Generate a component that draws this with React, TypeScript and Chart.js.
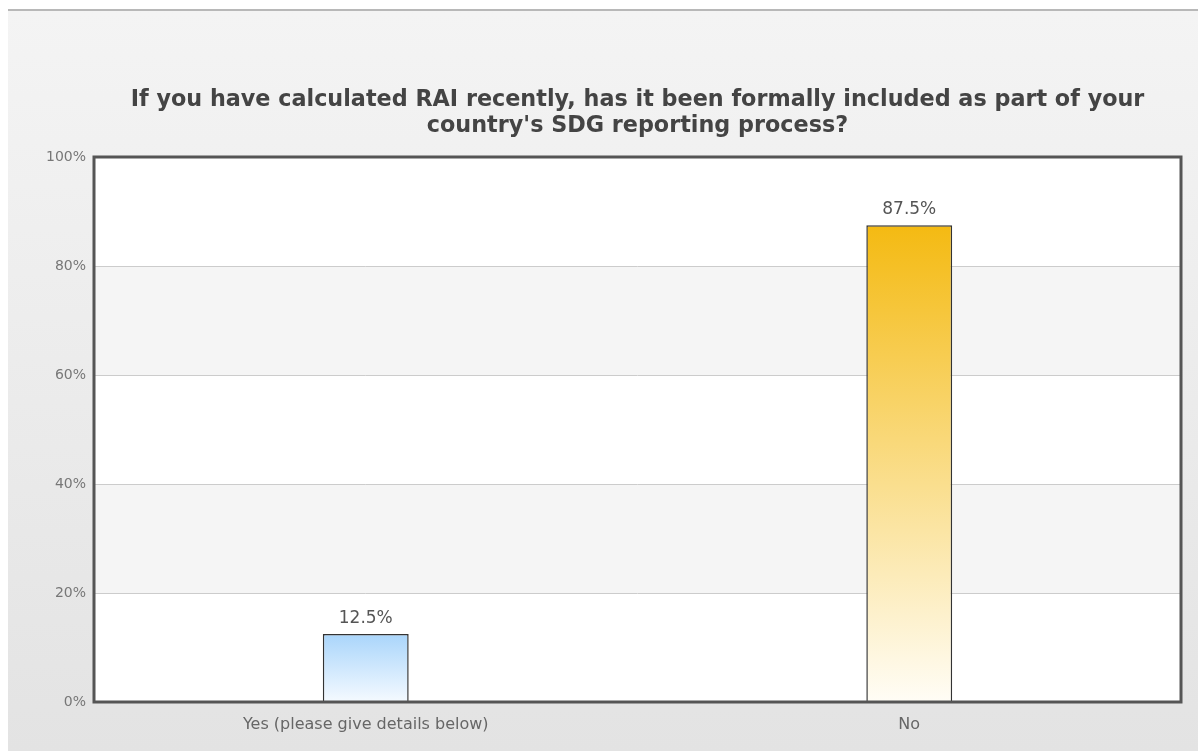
import React, { useEffect, useRef } from "react";
import { Chart, registerables } from "chart.js";

Chart.register(...registerables);

const titleLines = [
  "If you have calculated RAI recently, has it been formally included as part of your",
  "country's SDG reporting process?",
];
const categories = ["Yes (please give details below)", "No"];
const values = [12.5, 87.5];
const yTicks = [0, 20, 40, 60, 80, 100];
const gradTop = ["#a9d5fb", "#f4ba12"];
const gradBottom = ["#f5faff", "#fffdf6"];

const bgPlugin = {
  id: "bgPlugin",
  beforeDraw(chart: any) {
    const { ctx, width, height, chartArea } = chart;
    ctx.save();
    ctx.fillStyle = "#ffffff";
    ctx.fillRect(0, 0, width, height);
    const g = ctx.createLinearGradient(0, 11, 0, height);
    g.addColorStop(0, "#f4f4f4");
    g.addColorStop(1, "#e3e3e3");
    ctx.fillStyle = g;
    ctx.fillRect(8, 11, width - 8, height - 11);
    ctx.strokeStyle = "#b8b8b8";
    ctx.lineWidth = 2;
    ctx.beginPath();
    ctx.moveTo(8, 10);
    ctx.lineTo(width, 10);
    ctx.stroke();
    // plot bands
    const y = chart.scales.y;
    for (let i = 0; i < yTicks.length - 1; i++) {
      const a = y.getPixelForValue(yTicks[i]);
      const b = y.getPixelForValue(yTicks[i + 1]);
      ctx.fillStyle = i % 2 === 1 ? "#f5f5f5" : "#ffffff";
      ctx.fillRect(chartArea.left, b, chartArea.right - chartArea.left, a - b);
    }
    // title, centred over the plot area
    ctx.fillStyle = "#444444";
    ctx.font = "bold 22.3px 'DejaVu Sans'";
    ctx.textAlign = "center";
    ctx.textBaseline = "middle";
    const cx = (chartArea.left + chartArea.right) / 2;
    titleLines.forEach((t, i) => ctx.fillText(t, cx, 100 + i * 26));
    ctx.restore();
  },
  afterDatasetsDraw(chart: any) {
    const { ctx, chartArea } = chart;
    ctx.save();
    ctx.strokeStyle = "#555555";
    ctx.lineWidth = 3;
    ctx.strokeRect(chartArea.left, chartArea.top, chartArea.right - chartArea.left, chartArea.bottom - chartArea.top);
    const meta = chart.getDatasetMeta(0);
    ctx.fillStyle = "#555555";
    ctx.font = "17px 'DejaVu Sans'";
    ctx.textAlign = "center";
    ctx.textBaseline = "bottom";
    meta.data.forEach((bar: any, i: number) => {
      ctx.fillText(values[i] + "%", bar.x, bar.y - 7);
    });
    ctx.restore();
  },
};

export default function App() {
  const ref = useRef<HTMLCanvasElement>(null);
  useEffect(() => {
    if (!ref.current) return;
    const chart = new Chart(ref.current, {
      type: "bar",
      data: {
        labels: categories,
        datasets: [
          {
            data: values,
            backgroundColor: (c: any) => {
              const chart = c.chart;
              const area = chart.chartArea;
              if (!area || c.dataIndex === undefined) return gradTop[0];
              const top = chart.scales.y.getPixelForValue(values[c.dataIndex]);
              const g = chart.ctx.createLinearGradient(0, top, 0, area.bottom);
              g.addColorStop(0, gradTop[c.dataIndex]);
              g.addColorStop(1, gradBottom[c.dataIndex]);
              return g;
            },
            borderColor: "#333333",
            borderWidth: 1.5,
            borderSkipped: "bottom",
            categoryPercentage: 1,
            barPercentage: 0.158,
          },
        ],
      },
      options: {
        animation: false,
        responsive: false,
        layout: { padding: { top: 157, right: 17, left: 0, bottom: 14 } },
        plugins: {
          legend: { display: false },
          tooltip: { enabled: false },
          title: { display: false },
        },
        scales: {
          x: {
            grid: { display: false },
            border: { display: false },
            ticks: { color: "#666666", font: { family: "'DejaVu Sans'", size: 16 }, padding: 5 },
            afterFit(s: any) { s.height = 35; },
          },
          y: {
            min: 0,
            max: 100,
            ticks: {
              stepSize: 20,
              color: "#777777",
              font: { family: "'DejaVu Sans'", size: 14 },
              padding: 8,
              callback: (v: any) => v + "%",
            },
            grid: {
              color: (c: any) => (c.tick && (c.tick.value === 0 || c.tick.value === 100) ? "rgba(0,0,0,0)" : "#cccccc"),
              drawTicks: false,
            },
            border: { display: false },
            afterFit(s: any) { s.width = 94; },
          },
        },
      },
      plugins: [bgPlugin],
    });
    return () => chart.destroy();
  }, []);
  return (
    <div style={{ position: "absolute", left: 0, top: 0, width: 1198, height: 751 }}>
      <canvas ref={ref} width={1198} height={751} style={{ display: "block" }} />
    </div>
  );
}
